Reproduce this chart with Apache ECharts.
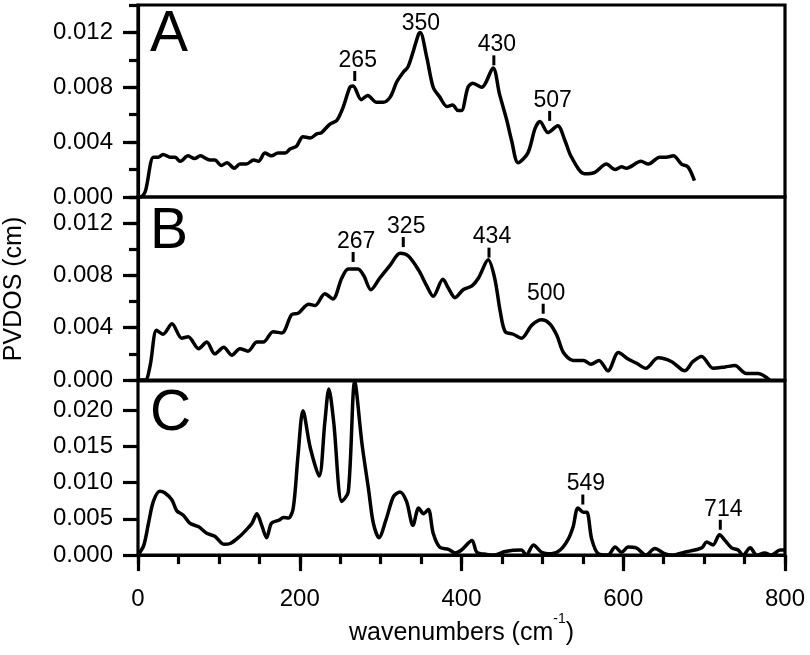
<!DOCTYPE html>
<html><head><meta charset="utf-8">
<script src="https://cdn.jsdelivr.net/npm/echarts@6/dist/echarts.min.js"></script>
<style>html,body{margin:0;padding:0;background:#fff}#c{width:810px;height:655px}</style>
</head><body><div id="c"></div>
<script>
// ---- Panel A ----
const wnA = [0,3,9,19,25,31,40,46,52,62,70,77,89,95,103,110,119,126,134,143,149,157,165,173,182,188,196,204,213,221,227,237,246,254,262,266,276,284,295,303,312,320,328,334,347,349,357,365,373,382,389,396,400,408,414,425,439,447,456,462,470,482,491,497,507,519,528,536,552,565,579,590,598,604,622,631,645,653,662,672,680,688];
const pvA = [0,0,0.0004,0.0029,0.0029,0.0031,0.0029,0.0029,0.0026,0.0030,0.0028,0.0030,0.0027,0.0027,0.0023,0.0025,0.0021,0.0024,0.0024,0.0027,0.0026,0.0032,0.0030,0.0032,0.0032,0.0035,0.0037,0.0044,0.0043,0.0046,0.0047,0.0053,0.0056,0.0066,0.0080,0.0081,0.0071,0.0074,0.0069,0.0069,0.0073,0.0084,0.0091,0.0095,0.0119,0.0120,0.0102,0.0080,0.0073,0.0066,0.0067,0.0063,0.0063,0.0080,0.0083,0.0080,0.0094,0.0075,0.0056,0.0041,0.0025,0.0032,0.0050,0.0055,0.0047,0.0052,0.0041,0.0029,0.0017,0.0018,0.0024,0.0020,0.0022,0.0021,0.0026,0.0024,0.0029,0.0029,0.0030,0.0024,0.0022,0.0012];
const peakXA = [268, 440, 509];
const peakYA = [0.00846, 0.0096, 0.00555];
const peakTextA = ['265', '430', '507'];
const bareXA = [346];
const bareYA = [0.0119];
const bareTextA = ['350'];

// ---- Panel B ----
const wnB = [0,9,15,23,31,42,54,62,75,85,95,106,116,126,136,147,155,167,178,190,198,211,219,231,241,252,260,272,279,288,299,312,324,334,347,357,365,377,384,392,402,413,421,433,441,448,454,464,474,487,499,509,518,526,538,551,560,570,581,594,606,616,628,643,660,676,686,697,711,726,738,752,767,781];
const pvB = [0,0,0.0011,0.0038,0.0035,0.0043,0.0032,0.0033,0.0024,0.0029,0.0020,0.0025,0.0019,0.0024,0.0022,0.0029,0.0029,0.0037,0.0036,0.0050,0.0051,0.0058,0.0057,0.0066,0.0062,0.0078,0.0085,0.0085,0.0080,0.0069,0.0078,0.0088,0.0097,0.0095,0.0084,0.0072,0.0064,0.0077,0.0070,0.0063,0.0069,0.0072,0.0078,0.0092,0.0078,0.0052,0.0037,0.0035,0.0032,0.0042,0.0046,0.0043,0.0034,0.0021,0.0015,0.0015,0.0012,0.0015,0.0007,0.0021,0.0016,0.0013,0.0009,0.0017,0.0014,0.0007,0.0014,0.0018,0.0009,0.0010,0.0011,0.0005,0.0005,0];
const peakXB = [266, 328, 434, 501];
const peakYB = [0.00903, 0.01017, 0.00936, 0.00507];
const peakTextB = ['267', '325', '434', '500'];

// ---- Panel C ----
const wnC = [0,7,13,19,27,33,42,48,56,64,75,85,95,106,114,126,134,141,147,153,159,165,174,180,186,192,198,204,213,224,231,236,242,252,260,268,277,285,291,298,307,316,324,332,340,347,353,359,365,373,384,392,400,413,419,431,441,454,474,480,489,499,511,522,532,538,544,551,555,561,569,581,590,598,606,616,628,639,651,660,676,697,703,711,719,726,734,742,748,757,765,775,783,794,800];
const pvC = [0,0.0013,0.0044,0.0074,0.0088,0.0086,0.0076,0.0061,0.0055,0.0044,0.0039,0.0030,0.0026,0.0015,0.0016,0.0026,0.0035,0.0044,0.0057,0.0041,0.0024,0.0044,0.0048,0.0052,0.0051,0.0065,0.0139,0.0199,0.0148,0.0109,0.0183,0.0229,0.0183,0.0074,0.0087,0.0239,0.0153,0.0091,0.0044,0.0024,0.0050,0.0081,0.0087,0.0074,0.0041,0.0065,0.0057,0.0063,0.0030,0.0011,0.0008,0.0003,0.0007,0.0020,0.0004,0.0001,0,0.0005,0.0007,0,0.0014,0.0004,0.0002,0.0007,0.0022,0.0039,0.0065,0.0059,0.0059,0.0022,0.0002,0,0.0011,0.0004,0.0011,0.0010,0,0.0009,0.0002,0,0.0004,0.0010,0.0018,0.0014,0.0028,0.0020,0.0010,0.0007,0,0.0010,0,0.0003,0,0.0007,0.0007];
const peakXC = [550, 720];
const peakYC = [0.00697, 0.00349];
const peakTextC = ['549', '714'];

// ---- Axes ----
const xTicksMajor = [0, 200, 400, 600, 800];
const yTicksAB = [0, 0.004, 0.008, 0.012];
const yTicksC = [0, 0.005, 0.010, 0.015, 0.020];
const panelLetters = ['A', 'B', 'C'];

const FONT = '"Liberation Sans", Arial, Helvetica, sans-serif';
const BLACK = '#000';
const LW = 3.2;
const CURVE_LW = 3.5;
const zip = (a, b) => a.map((v, i) => [v, b[i]]);

const grids = [
  {left: 138, right: 25, top: 5, height: 192},
  {left: 138, right: 25, top: 197, height: 183},
  {left: 138, right: 25, top: 381, height: 186}
].map(g => Object.assign(g, {show: true, borderColor: BLACK, borderWidth: LW, backgroundColor: 'transparent'}));

function yMinor(grid, max, step) {
  return {type: 'value', gridIndex: grid, position: 'left', min: 0, max: max, interval: step,
    axisLine: {show: true, lineStyle: {color: BLACK, width: LW}},
    axisTick: {show: true, length: 9, lineStyle: {color: BLACK, width: LW}},
    axisLabel: {show: false}, splitLine: {show: false}};
}
function yMajor(grid, max, step, ticks) {
  return {type: 'value', gridIndex: grid, position: 'left', min: 0, max: max, interval: step,
    axisLine: {show: false},
    axisTick: {show: true, length: 15, customValues: ticks, lineStyle: {color: BLACK, width: LW}},
    axisLabel: {show: true, customValues: ticks, hideOverlap: false, margin: 25, fontSize: 24, color: BLACK, fontFamily: FONT,
      formatter: v => v.toFixed(3)},
    splitLine: {show: false}};
}
const yAxes = [
  yMinor(0, 0.014, 0.002), yMajor(0, 0.014, 0.004, yTicksAB),
  yMinor(1, 0.014, 0.002), yMajor(1, 0.014, 0.004, yTicksAB),
  yMajor(2, 0.024, 0.005, yTicksC)
];
const xHidden = g => ({type: 'value', gridIndex: g, min: 0, max: 800, show: false});
const xAxes = [
  xHidden(0), xHidden(1),
  {type: 'value', gridIndex: 2, position: 'bottom', min: 0, max: 800, interval: 50,
    axisLine: {show: true, lineStyle: {color: BLACK, width: LW}},
    axisTick: {show: true, length: 9, lineStyle: {color: BLACK, width: LW}},
    axisLabel: {show: false}, splitLine: {show: false}},
  {type: 'value', gridIndex: 2, position: 'bottom', min: 0, max: 800, interval: 200,
    axisLine: {show: false},
    axisTick: {show: true, length: 16, customValues: xTicksMajor, lineStyle: {color: BLACK, width: LW}},
    axisLabel: {show: true, customValues: xTicksMajor, margin: 32, fontSize: 24, color: BLACK, fontFamily: FONT},
    splitLine: {show: false},
    name: 'wavenumbers (cm{sup|-1})', nameLocation: 'middle', nameGap: 54,
    nameTextStyle: {fontSize: 25, color: BLACK, fontFamily: FONT, lineHeight: 42,
      rich: {sup: {fontSize: 14, color: BLACK, fontFamily: FONT, lineHeight: 14, verticalAlign: 'top'}}}}
];

function lineSeries(xi, yi, wn, pv) {
  return {type: 'line', xAxisIndex: xi, yAxisIndex: yi, data: zip(wn, pv), showSymbol: false, symbol: 'none',
    smooth: 0.3, lineStyle: {color: BLACK, width: CURVE_LW}, silent: true, z: 3};
}
function peakSeries(xi, yi, xs, ys, texts, tick) {
  return {type: 'scatter', xAxisIndex: xi, yAxisIndex: yi, silent: true, z: 4,
    data: xs.map((x, i) => ({value: [x, ys[i]], name: texts[i]})),
    symbol: 'rect', symbolSize: tick ? [3, 10] : [0, 0], symbolOffset: tick ? [0, -5] : [0, 0],
    itemStyle: {color: BLACK, opacity: 1},
    label: {show: true, position: 'top', distance: -1, offset: [3, 0], formatter: '{b}', fontSize: 23, color: BLACK, fontFamily: FONT}};
}

const series = [
  lineSeries(0, 0, wnA, pvA),
  lineSeries(1, 2, wnB, pvB),
  lineSeries(2, 4, wnC, pvC),
  peakSeries(0, 0, peakXA, peakYA, peakTextA, true),
  peakSeries(0, 0, bareXA, bareYA, bareTextA, false),
  peakSeries(1, 2, peakXB, peakYB, peakTextB, true),
  peakSeries(2, 4, peakXC, peakYC, peakTextC, true)
];

const letterY = [36, 233, 415];
const graphic = panelLetters.map((t, i) => ({type: 'text', left: 150, top: letterY[i] - 29,
  style: {text: t, fontSize: 57, fill: BLACK, fontFamily: FONT}}));
graphic.push({type: 'text', x: 14, y: 289, rotation: Math.PI / 2,
  style: {text: 'PVDOS (cm)', fontSize: 25, fill: BLACK, fontFamily: FONT, align: 'center', verticalAlign: 'middle'}});

const chart = echarts.init(document.getElementById('c'), null, {renderer: 'canvas'});
chart.setOption({animation: false, backgroundColor: '#fff', grid: grids, xAxis: xAxes, yAxis: yAxes, series: series, graphic: graphic});
</script>
</body></html>
